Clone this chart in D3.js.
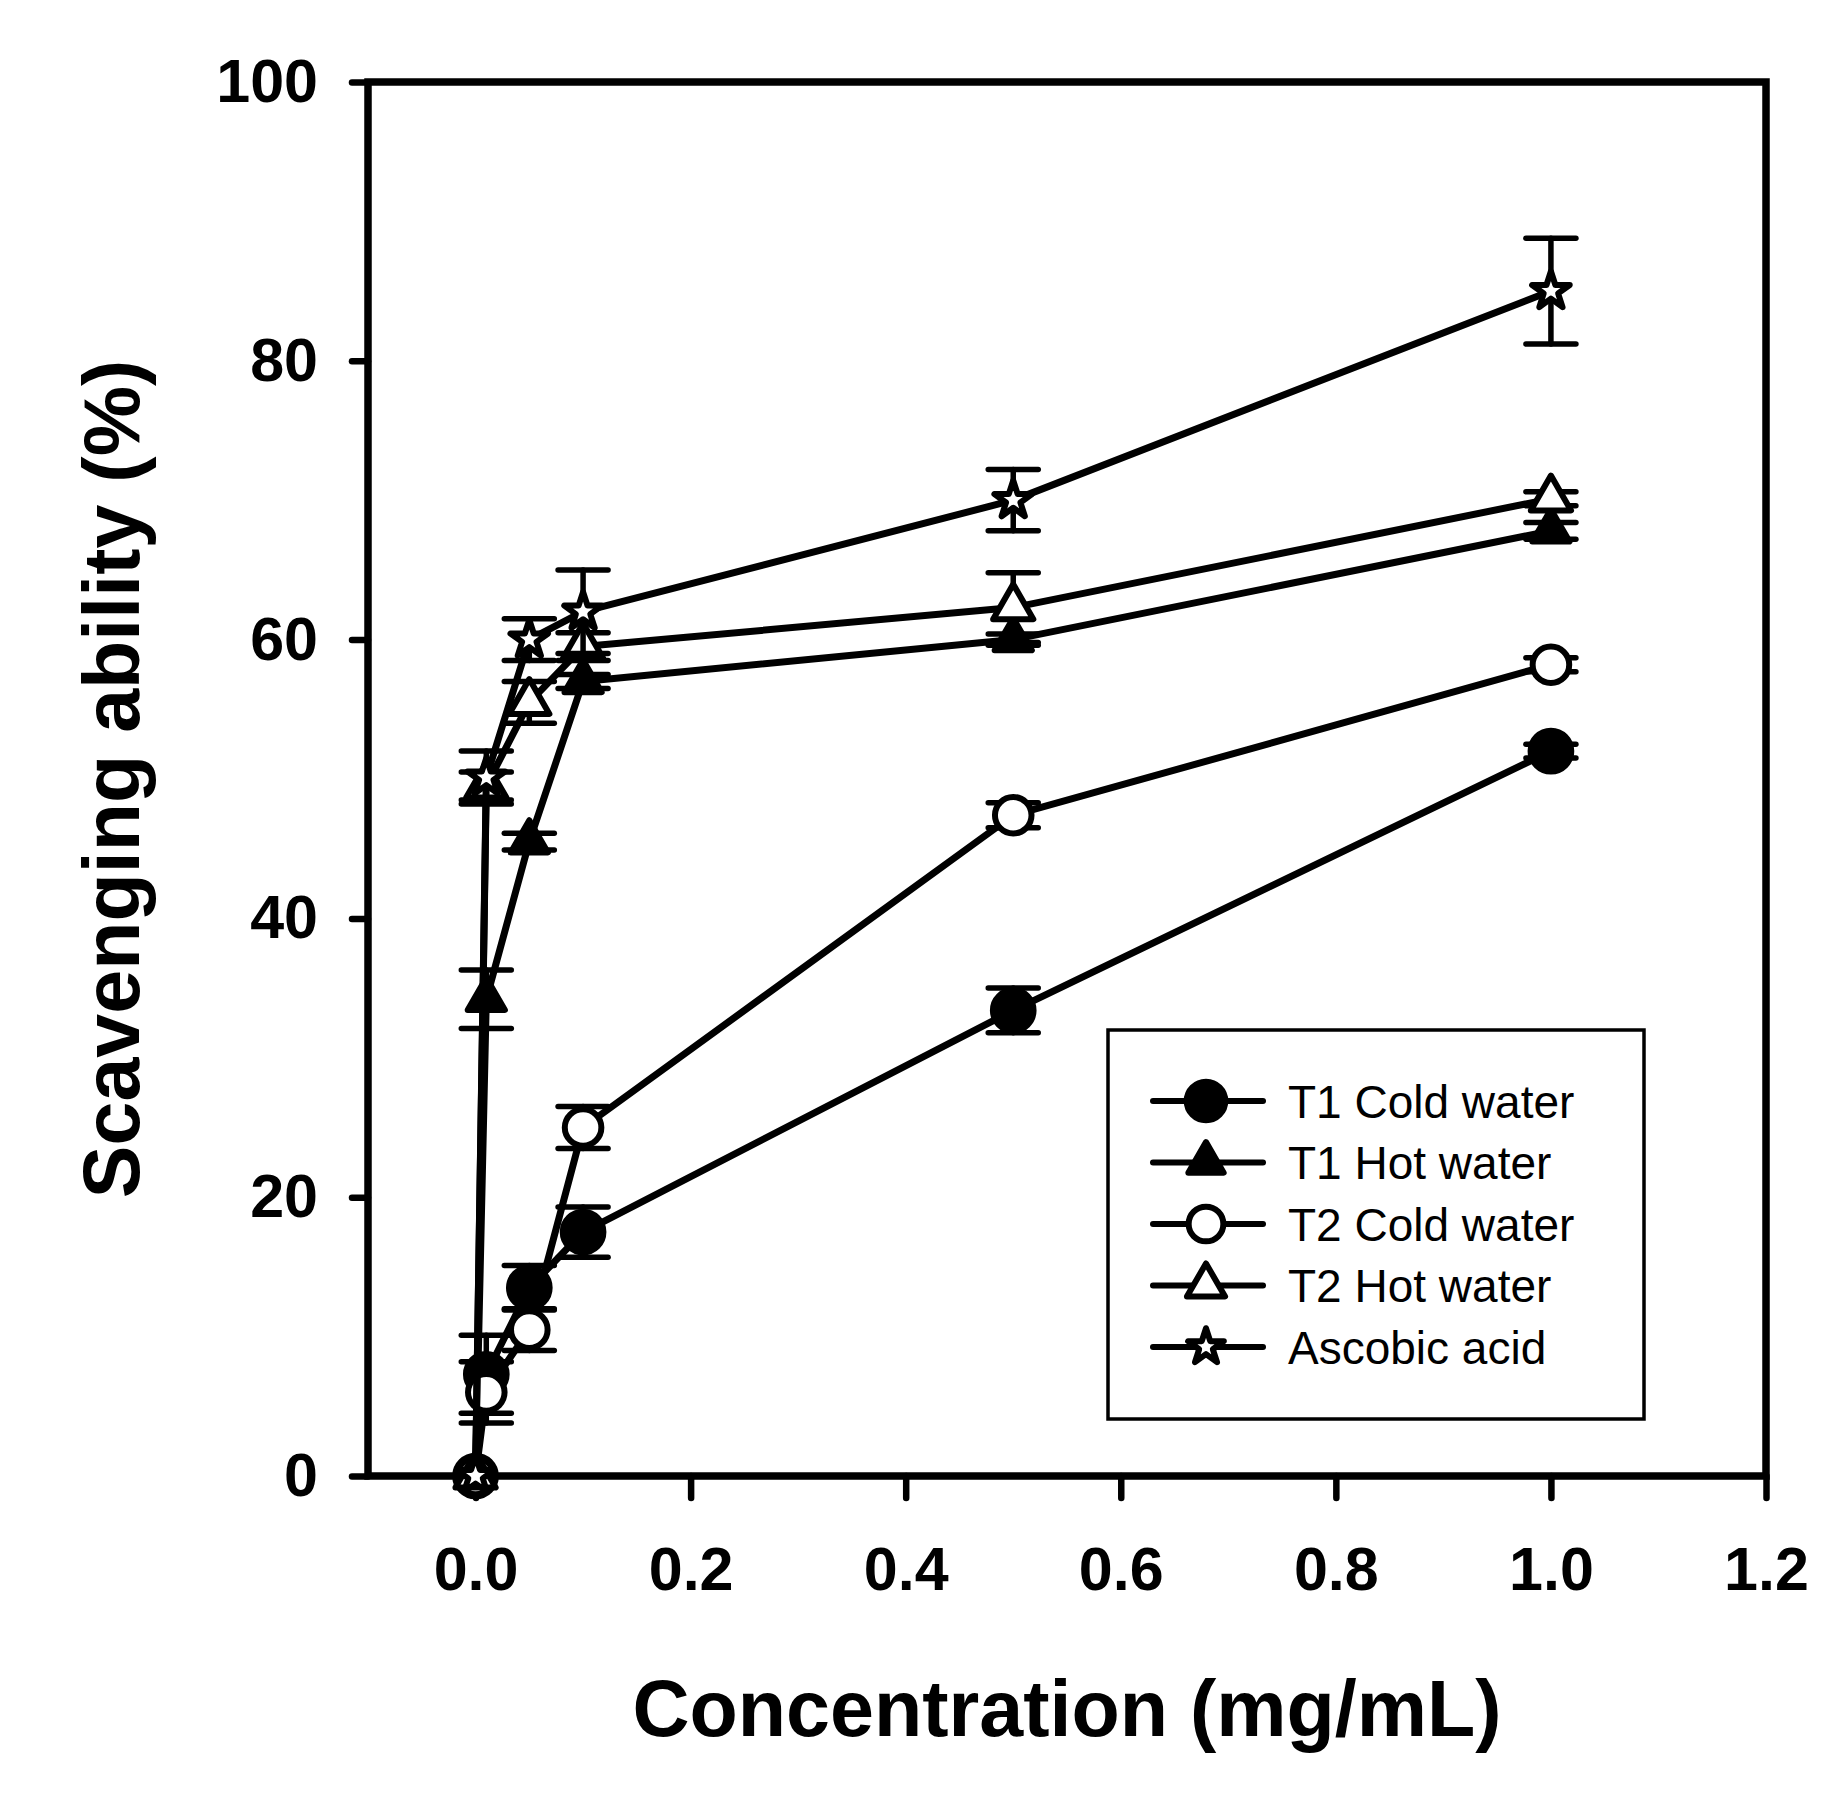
<!DOCTYPE html>
<html>
<head>
<meta charset="utf-8">
<script src="https://cdn.jsdelivr.net/npm/d3@7"></script>
<style>
  body { margin: 0; background: #fff; }
  svg { display: block; }
</style>
</head>
<body>
<svg id="chart"></svg>
<script>
// Chart size and plot frame
const width = 1838;
const height = 1802;
const plotLeft = 368;
const plotRight = 1766;
const plotTop = 82;
const plotBottom = 1476;

// Data
const concentrations = [0, 0.01, 0.05, 0.1, 0.5, 1.0];
const t1Cold = [0, 7.3, 13.5, 17.5, 33.4, 52.0];
const t1ColdErr = [0, 2.8, 1.6, 1.8, 1.6, 0.5];
const t1Hot = [0, 34.2, 45.5, 57.0, 60.0, 67.8];
const t1HotErr = [0, 2.1, 0.6, 0.5, 0.4, 0.6];
const t2Cold = [0, 6.0, 10.5, 25.0, 47.4, 58.2];
const t2ColdErr = [0, 2.2, 1.5, 1.5, 0.9, 0.5];
const t2Hot = [0, 49.5, 55.5, 59.5, 62.3, 70.1];
const t2HotErr = [0, 1.0, 1.5, 1.0, 2.5, 0.5];
const ascorbic = [0, 50.1, 60.0, 62.0, 70.0, 85.0];
const ascorbicErr = [0, 1.9, 1.5, 3.0, 2.2, 3.8];

const seriesNames = ["T1 Cold water", "T1 Hot water", "T2 Cold water", "T2 Hot water", "Ascobic acid"];
const xTicks = [0, 0.2, 0.4, 0.6, 0.8, 1.0, 1.2];
const yTicks = [0, 20, 40, 60, 80, 100];

// marker look per series
const markers = [
  { type: d3.symbolCircle, size: 1300, fill: "black" },
  { type: d3.symbolTriangle, size: 600, fill: "black" },
  { type: d3.symbolCircle, size: 1050, fill: "white" },
  { type: d3.symbolTriangle, size: 700, fill: "white" },
  { type: d3.symbolStar, size: 440, fill: "white" },
];

const series = [
  { values: t1Cold, errors: t1ColdErr },
  { values: t1Hot, errors: t1HotErr },
  { values: t2Cold, errors: t2ColdErr },
  { values: t2Hot, errors: t2HotErr },
  { values: ascorbic, errors: ascorbicErr },
];

const svg = d3.select("#chart").attr("width", width).attr("height", height);
svg.append("rect").attr("width", width).attr("height", height).attr("fill", "white");

const x = d3.scaleLinear().domain([-0.1, 1.2]).range([plotLeft, plotRight]);
const y = d3.scaleLinear().domain([0, 100]).range([plotBottom, plotTop]);

// Axes
const xAxis = svg
  .append("g")
  .attr("transform", `translate(0,${plotBottom})`)
  .call(
    d3.axisBottom(x).tickValues(xTicks).tickFormat(d3.format(".1f")).tickSize(22).tickSizeOuter(0).tickPadding(49)
  );
const yAxis = svg
  .append("g")
  .attr("transform", `translate(${plotLeft},0)`)
  .call(d3.axisLeft(y).tickValues(yTicks).tickSize(16).tickSizeOuter(0).tickPadding(34));

[xAxis, yAxis].forEach((axis) => {
  axis.select(".domain").remove();
  axis.selectAll(".tick line").attr("stroke", "black").attr("stroke-width", 6.5).attr("stroke-linecap", "round");
  axis
    .selectAll(".tick text")
    .attr("fill", "black")
    .style("font-family", "'Liberation Sans', Arial, sans-serif")
    .style("font-weight", "bold")
    .style("font-size", "61px");
});

// Plot frame
svg
  .append("rect")
  .attr("x", plotLeft)
  .attr("y", plotTop)
  .attr("width", plotRight - plotLeft)
  .attr("height", plotBottom - plotTop)
  .attr("fill", "none")
  .attr("stroke", "black")
  .attr("stroke-width", 7.5);

// Series: error bars, line, then markers
const line = d3
  .line()
  .x((d) => x(d[0]))
  .y((d) => y(d[1]));

series.forEach((s, i) => {
  const pts = concentrations.map((c, j) => [c, s.values[j], s.errors[j]]);
  const g = svg.append("g");

  const bars = g
    .selectAll(".err")
    .data(pts.filter((d) => d[2] > 0))
    .join("g")
    .attr("stroke", "black")
    .attr("stroke-width", 5.5)
    .attr("stroke-linecap", "round");
  bars
    .append("line")
    .attr("x1", (d) => x(d[0]))
    .attr("x2", (d) => x(d[0]))
    .attr("y1", (d) => y(d[1] - d[2]))
    .attr("y2", (d) => y(d[1] + d[2]));
  bars
    .append("line")
    .attr("x1", (d) => x(d[0]) - 25)
    .attr("x2", (d) => x(d[0]) + 25)
    .attr("y1", (d) => y(d[1] + d[2]))
    .attr("y2", (d) => y(d[1] + d[2]));
  bars
    .append("line")
    .attr("x1", (d) => x(d[0]) - 25)
    .attr("x2", (d) => x(d[0]) + 25)
    .attr("y1", (d) => y(d[1] - d[2]))
    .attr("y2", (d) => y(d[1] - d[2]));

  g.append("path")
    .attr("d", line(pts))
    .attr("fill", "none")
    .attr("stroke", "black")
    .attr("stroke-width", 7)
    .attr("stroke-linejoin", "round");

  const m = markers[i];
  g.selectAll(".mark")
    .data(pts)
    .join("path")
    .attr("d", d3.symbol().type(m.type).size(m.size))
    .attr("transform", (d) => `translate(${x(d[0])},${y(d[1])})`)
    .attr("fill", m.fill)
    .attr("stroke", "black")
    .attr("stroke-width", 6)
    .attr("stroke-linejoin", "round");
});

// Legend
const legend = svg.append("g");
legend
  .append("rect")
  .attr("x", 1108)
  .attr("y", 1030)
  .attr("width", 536)
  .attr("height", 389)
  .attr("fill", "white")
  .attr("stroke", "black")
  .attr("stroke-width", 3.5);

seriesNames.forEach((name, i) => {
  const cy = 1101 + i * 61.5;
  const m = markers[i];
  legend
    .append("line")
    .attr("x1", 1153)
    .attr("x2", 1263)
    .attr("y1", cy)
    .attr("y2", cy)
    .attr("stroke", "black")
    .attr("stroke-width", 6)
    .attr("stroke-linecap", "round");
  legend
    .append("path")
    .attr("d", d3.symbol().type(m.type).size(m.size * 0.9))
    .attr("transform", `translate(1206,${cy})`)
    .attr("fill", m.fill)
    .attr("stroke", "black")
    .attr("stroke-width", 6)
    .attr("stroke-linejoin", "round");
  legend
    .append("text")
    .attr("x", 1288)
    .attr("y", cy)
    .attr("dy", "0.36em")
    .style("font-family", "'Liberation Sans', Arial, sans-serif")
    .style("font-size", "46px")
    .text(name);
});

// Axis titles
svg
  .append("text")
  .attr("x", (plotLeft + plotRight) / 2)
  .attr("y", 1736)
  .attr("text-anchor", "middle")
  .style("font-family", "'Liberation Sans', Arial, sans-serif")
  .style("font-weight", "bold")
  .style("font-size", "79px")
  .text("Concentration (mg/mL)");

svg
  .append("text")
  .attr("transform", `translate(139,${(plotTop + plotBottom) / 2}) rotate(-90)`)
  .attr("text-anchor", "middle")
  .style("font-family", "'Liberation Sans', Arial, sans-serif")
  .style("font-weight", "bold")
  .style("font-size", "79px")
  .text("Scavenging ability (%)");
</script>
</body>
</html>
